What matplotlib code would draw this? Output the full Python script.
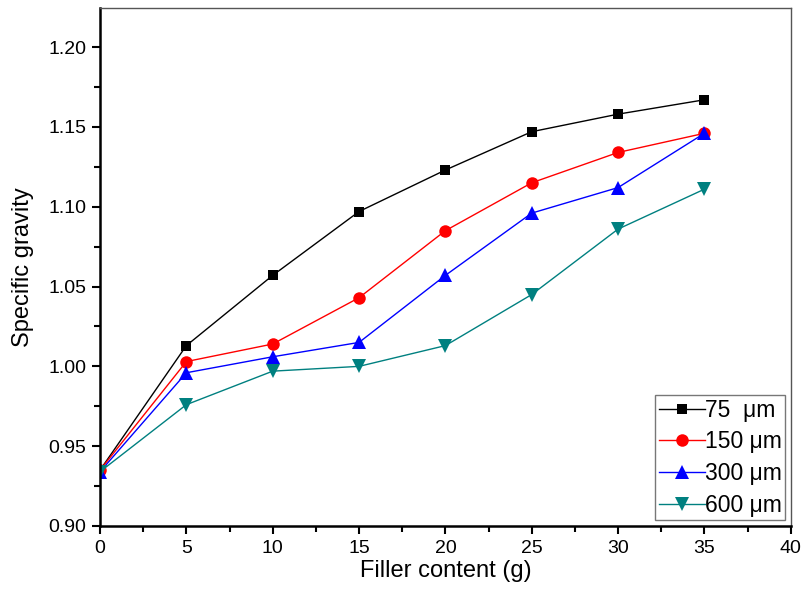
import matplotlib
matplotlib.use("Agg")
import matplotlib.pyplot as plt
from matplotlib.ticker import MultipleLocator, FormatStrFormatter

plt.rcParams["font.family"] = ["Liberation Sans", "DejaVu Sans"]

# filler content (g) and specific gravity per particle size
filler = [0, 5, 10, 15, 20, 25, 30, 35]
sg_75 = [0.935, 1.013, 1.057, 1.097, 1.123, 1.147, 1.158, 1.167]
sg_150 = [0.935, 1.003, 1.014, 1.043, 1.085, 1.115, 1.134, 1.146]
sg_300 = [0.934, 0.996, 1.006, 1.015, 1.057, 1.096, 1.112, 1.146]
sg_600 = [0.934, 0.976, 0.997, 1.000, 1.013, 1.045, 1.086, 1.111]

labels = ["75  \u03bcm", "150 \u03bcm", "300 \u03bcm", "600 \u03bcm"]
colors = ["black", "red", "blue", "#008080"]
markers = ["s", "o", "^", "v"]
sizes = [7.5, 9, 10, 10]

fig = plt.figure(figsize=(8.02, 5.92), dpi=100)
ax = fig.add_axes([0.1247, 0.1115, 0.8613, 0.875])

for ys, lab, c, m, ms in zip([sg_75, sg_150, sg_300, sg_600], labels, colors, markers, sizes):
    ax.plot(filler, ys, color=c, marker=m, markersize=ms, linewidth=1.0,
            label=lab, markeredgewidth=0)

ax.set_xlim(0, 40)
ax.set_ylim(0.90, 1.2245)
ax.xaxis.set_major_locator(MultipleLocator(5))
ax.xaxis.set_minor_locator(MultipleLocator(2.5))
ax.set_yticks([0.90, 0.95, 1.00, 1.05, 1.10, 1.15, 1.20])
ax.yaxis.set_minor_locator(MultipleLocator(0.025))
ax.yaxis.set_major_formatter(FormatStrFormatter("%.2f"))

ax.tick_params(which="both", direction="out", width=1.5, labelsize=14, pad=4)
ax.tick_params(which="major", length=6)
ax.tick_params(which="minor", length=4)

for side in ("left", "bottom"):
    ax.spines[side].set_linewidth(1.8)
    ax.spines[side].set_color("black")
for side in ("top", "right"):
    ax.spines[side].set_linewidth(1.0)
    ax.spines[side].set_color("#555555")

ax.set_xlabel("Filler content (g)", fontsize=17, labelpad=2)
ax.set_ylabel("Specific gravity", fontsize=17, labelpad=10)

leg = ax.legend(loc="lower right", fontsize=16.5, frameon=True, fancybox=False,
                edgecolor="#555555", handlelength=2.0, handletextpad=0.0,
                borderpad=0.15, labelspacing=0.38, borderaxespad=0.25)
leg.get_frame().set_linewidth(1.0)

fig.savefig("out.png", dpi=100)
